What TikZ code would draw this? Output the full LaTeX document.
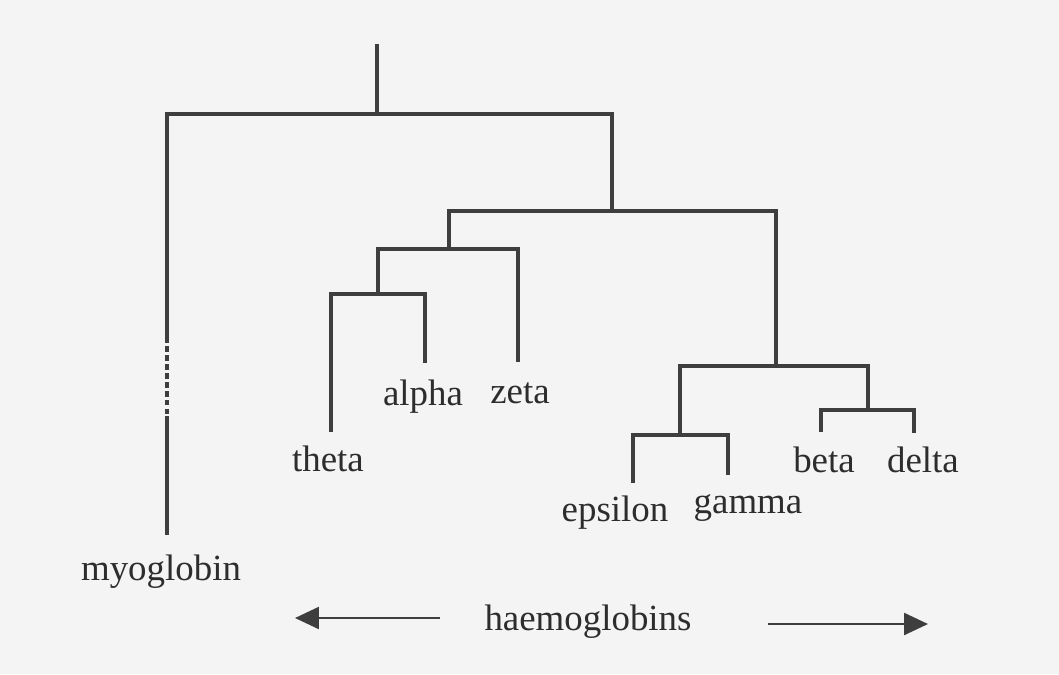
\documentclass[tikz,border=0pt]{standalone}
\usepackage{fontspec}
\setmainfont{Liberation Serif}
\usetikzlibrary{arrows.meta, positioning}
\usepackage{xcolor}
\definecolor{PageGrey}{RGB}{244,244,244}
\definecolor{InkGrey}{RGB}{62,62,62}
\definecolor{TextGrey}{RGB}{45,45,45}

\begin{document}
\begin{tikzpicture}[
          x=0.02cm, y=-0.02cm,
          branch/.style={draw=InkGrey, line width=2pt},
          gap/.style={branch, dash pattern=on 0.11cm off 0.07cm},
          leaf/.style={text=TextGrey, anchor=base, inner sep=0pt, font=\fontsize{21}{25}\selectfont},
          arrow/.style={-{Triangle[length=0.48cm, width=0.44cm]}, line width=1.4pt, InkGrey}
        ]
          \fill [PageGrey] (0,0) rectangle (1059,674);
          \useasboundingbox (0,0) rectangle (1059,674);

          % branch points
          \coordinate (top) at (377,44);
          \coordinate (root) at (377,114);
          \coordinate (haemo) at (612,211);
          \coordinate (alfam) at (449,249);
          \coordinate (thal) at (378,294);
          \coordinate (befam) at (776,366);
          \coordinate (epga) at (680,435);
          \coordinate (bede) at (868,410);

          % leaf ends
          \coordinate (myo_a) at (167,337);
          \coordinate (myo_b) at (167,416);
          \coordinate (myo_end) at (167,535);
          \coordinate (theta_end) at (331,432);
          \coordinate (alpha_end) at (425,363);
          \coordinate (zeta_end) at (518,362);
          \coordinate (eps_end) at (633,483);
          \coordinate (gam_end) at (728,475);
          \coordinate (beta_end) at (821,432);
          \coordinate (delta_end) at (914,433);

          \node (myo) [leaf] at (161,580) {myoglobin};
          \node (theta) [leaf] at (328,471) {theta};
          \node (alpha) [leaf] at (423,405) {alpha};
          \node (zeta) [leaf] at (520,403) {zeta};
          \node (epsilon) [leaf] at (615,521) {epsilon};
          \node (gamma) [leaf] at (748,513) {gamma};
          \node (beta) [leaf] at (824,472) {beta};
          \node (delta) [leaf] at (923,472) {delta};
          \node (haem) [leaf] at (588,630) {haemoglobins};

          \draw [branch] (top) -- (root);
          \draw [branch] (root) -| (myo_a);
          \draw [gap] (myo_a) -- (myo_b);
          \draw [branch] (myo_b) -- (myo_end);
          \draw [branch] (root) -| (haemo);
          \draw [branch] (haemo) -| (alfam);
          \draw [branch] (haemo) -| (befam);
          \draw [branch] (alfam) -| (thal);
          \draw [branch] (alfam) -| (zeta_end);
          \draw [branch] (thal) -| (theta_end);
          \draw [branch] (thal) -| (alpha_end);
          \draw [branch] (befam) -| (epga);
          \draw [branch] (befam) -| (bede);
          \draw [branch] (epga) -| (eps_end);
          \draw [branch] (epga) -| (gam_end);
          \draw [branch] (bede) -| (beta_end);
          \draw [branch] (bede) -| (delta_end);

          \coordinate (left_tail) at (440,618);
          \coordinate (left_tip) at (295,618);
          \coordinate (right_tail) at (768,624);
          \coordinate (right_tip) at (928,624);
          \draw [arrow] (left_tail) -- (left_tip);
          \draw [arrow] (right_tail) -- (right_tip);
        \end{tikzpicture}
\end{document}
